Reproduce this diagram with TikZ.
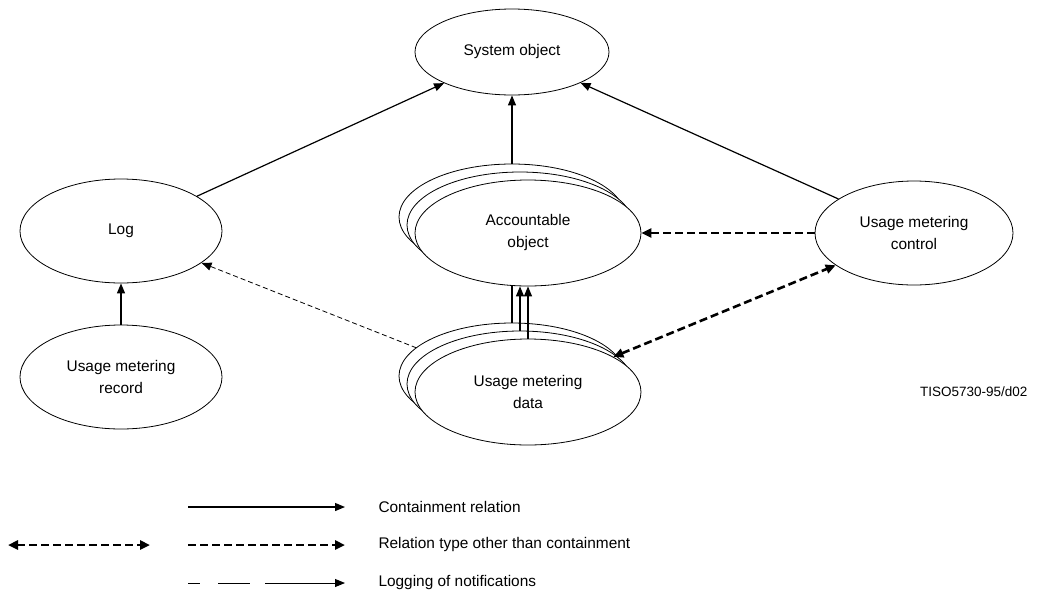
\documentclass[tikz,border=0pt]{standalone}
\usepackage{fontspec}
\setmainfont{Liberation Sans}
\usetikzlibrary{shapes.geometric,arrows.meta,backgrounds}

\begin{document}
\begin{tikzpicture}[x=1pt, y=-1pt,
  every node/.style={align=center, font=\fontsize{15.4}{22}\selectfont},
  obj/.style={draw, ellipse, fill=white, line width=0.8pt, minimum width=202pt, minimum height=104pt, inner sep=0pt},
  stackobj/.style={obj, minimum width=226pt, minimum height=106pt},
  contain/.style={-{Triangle[length=10pt,width=8pt]}, line width=1.2pt},
  relation/.style={-{Triangle[length=10pt,width=9pt]}, line width=2.6pt, dash pattern=on 8pt off 4pt},
  logging/.style={-{Triangle[length=10pt,width=8pt]}, line width=0.8pt, dash pattern=on 5pt off 3pt},
  legendtext/.style={anchor=west}]
\useasboundingbox (0,0) rectangle (1063,614);

% Managed objects
\node[obj, minimum width=194pt, minimum height=86pt] (sysobj) at (512,52) {System object};
\node[obj] (log) at (121,231) {Log};
\node[obj] (record) at (121,377) {Usage metering\\record};
\node[obj, minimum width=198pt] (control) at (914,233) {Usage metering\\control};

% Accountable object (stack)
\node[stackobj] (accA) at (512,217) {};
\node[stackobj] (accB) at (520,225) {};
\node[stackobj] (accC) at (528,233) {Accountable\\object};

% Usage metering data (stack)
\node[stackobj] (dataA) at (512,376) {};
\node[stackobj] (dataB) at (520,384) {};
\node[stackobj] (dataC) at (528,392) {Usage metering\\data};

\node[font=\fontsize{13.5}{15}\selectfont, anchor=east] (tag) at (1031,392) {TISO5730-95/d02};

% Containment
\draw[contain] (log) -- (sysobj);
\draw[contain] (control) -- (sysobj);
\draw[contain] (accA.north) -- (accA.north |- sysobj.south);
\draw[contain] (record) -- (log);
\draw[line width=1.2pt] (dataA.north) -- (dataA.north |- accC.south);
\draw[contain] (dataB.north) -- (dataB.north |- accC.south);
\draw[contain] (dataC.north) -- (dataC.north |- accC.south);

% Other relations
\draw[relation] (control) -- (accC);
\draw[relation, {Triangle[length=10pt,width=9pt]}-{Triangle[length=10pt,width=9pt]}] (dataC) -- (control);

% Logging
\begin{pgfonlayer}{background}
\draw[logging] (dataC.center) -- (log);
\end{pgfonlayer}

% Legend
\coordinate (k1a) at (188,507);
\coordinate (k1b) at (345,507);
\coordinate (k2a) at (188,545);
\coordinate (k2b) at (345,545);
\coordinate (k2c) at (8,545);
\coordinate (k2d) at (150,545);
\coordinate (k3a) at (188,583);
\coordinate (k3b) at (345,583);
\draw[contain] (k1a) -- (k1b);
\node[legendtext] (key1) at (375,507) {Containment relation};
\draw[relation, {Triangle[length=10pt,width=9pt]}-{Triangle[length=10pt,width=9pt]}] (k2c) -- (k2d);
\draw[relation] (k2a) -- (k2b);
\node[legendtext] (key2) at (375,545) {Relation type other than containment};
\draw[contain, line width=0.9pt, dash pattern=on 12pt off 18pt on 32pt off 15pt on 120pt] (k3a) -- (k3b);
\node[legendtext] (key3) at (375,583) {Logging of notifications};
\end{tikzpicture}
\end{document}
